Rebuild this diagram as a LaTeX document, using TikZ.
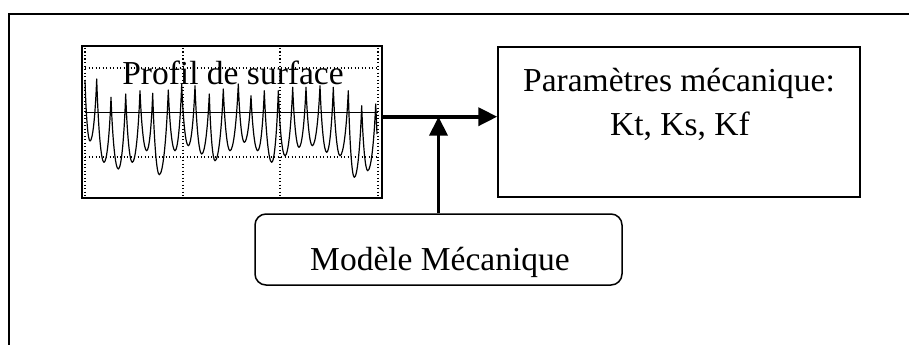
\documentclass[tikz,border=0pt]{standalone}
\usepackage{fontspec}
\setmainfont{Liberation Serif}
\usetikzlibrary{arrows.meta}
\begin{document}
\begin{tikzpicture}[x=1pt,y=-1pt,
  txt/.style={font=\fontsize{33.5}{40}\selectfont, inner sep=0pt},
  boxline/.style={draw=black, line width=1.5pt},
  grid/.style={black, line width=1.1pt, dash pattern=on 1.3pt off 2.2pt},
  wave/.style={black, line width=1.2pt, line join=round},
  arr/.style={black, line width=3.8pt, -{Triangle[length=19pt,width=18pt]}},
  frame/.style={black, line width=1.4pt}]
\useasboundingbox (0,0) rectangle (909,345);
% outer frame (only top and left visible)
\coordinate (ftr) at (909,14);
\coordinate (ftl) at (9,14);
\coordinate (fbl) at (9,345);
\draw[frame] (ftr) -- (ftl) -- (fbl);
% profile box
\node[boxline, rectangle, minimum width=300pt, minimum height=152pt, inner sep=0pt] (profil) at (232,122) {};
% grid
\foreach \gx in {85,183,280,378} \draw[grid] (\gx,48) -- (\gx,196);
\foreach \gy in {68,157} \draw[grid] (85,\gy) -- (378,\gy);
\draw[black, line width=1.4pt] (85,112.3) -- (378,112.3);
% waveform
\draw[wave] (85,80)
  \foreach \xv/\yv/\xb/\yb [remember=\xb as \xa (initially 85), remember=\yb as \ya (initially 80)] in {
  90/141/96.7/79,
  104/162.3/111/97.3,
  118.3/169/125.7/94,
  132.3/162.3/140/90.7,
  146.7/150.7/152.7/93.3,
  159.3/174.7/168.3/90,
  175/150.7/181.7/84,
  188.3/145.7/195/85.7,
  201.7/154/209.3/94,
  215/160.7/223.3/89,
  230/150.7/238.3/84,
  244.3/142.3/251/95.7,
  257.7/150.7/264.3/90.7,
  271.7/162.3/278.3/90.7,
  285/155.7/292.7/87.3,
  299/147.3/306/87.3,
  312.3/145.7/320/85.7,
  326.7/152.3/333.3/87.3,
  340/155.7/348.3/90.7,
  354.3/177.3/361.7/105.7,
  367.7/170.7/375.7/104}
  { .. controls ({\xa+0.22*(\xv-\xa)},{\ya+0.6*(\yv-\ya)}) and ({\xv-0.4*(\xv-\xa)},{\yv}) .. (\xv,\yv)
    .. controls ({\xv+0.4*(\xb-\xv)},{\yv}) and ({\xb-0.22*(\xb-\xv)},{\yb+0.6*(\yv-\yb)}) .. (\xb,\yb) }
  -- (377,134);
\node[txt, anchor=base] (profiltxt) at (233,84) {Profil de surface};
% parameters box
\node[boxline, rectangle, minimum width=362pt, minimum height=150pt, inner sep=0pt] (param) at (679,122) {};
\node[txt, anchor=base] (param1) at (679,91.7) {Paramètres mécanique:};
\node[txt, anchor=base] (param2) at (680,135) {Kt, Ks, Kf};
% model box
\node[boxline, rectangle, rounded corners=11pt, minimum width=367pt, minimum height=71pt, inner sep=0pt] (modele) at (438.5,249.5) {};
\node[txt, anchor=base] (modeletxt) at (440,270) {Modèle Mécanique};
% arrows
\coordinate (hs) at (383,116.7);
\draw[arr] (hs) -- (hs -| param.west);
\draw[arr] (modele.north) -- (modele.north |- hs);
\end{tikzpicture}
\end{document}
